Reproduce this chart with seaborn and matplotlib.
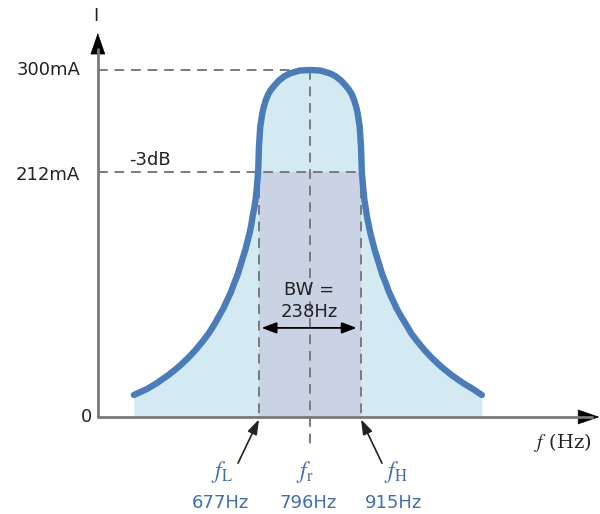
import pandas as pd
import matplotlib.pyplot as plt
import seaborn as sns

# resonance curve (Hz, mA)
freq = [385, 416, 438, 466, 490, 511, 529, 545, 560, 572, 583, 594, 603, 612, 619, 627, 633, 639, 645,
        650, 655, 659, 662, 666, 669, 672, 675, 677, 680, 685, 688.5, 693, 698.5, 705, 714, 724, 736,
        749, 772, 796,
        820, 843, 856, 868, 878, 887, 893.5, 899, 903.5, 907, 912, 915, 917, 920, 923, 926, 929, 933,
        937, 942, 947, 953, 959, 965, 973, 980, 989, 998, 1009, 1021, 1032, 1047, 1063, 1081, 1102,
        1126, 1154, 1176, 1197]
current = [19.0, 24.2, 29.1, 36.3, 43.5, 50.8, 57.9, 65.1, 72.4, 79.5, 86.7, 94.0, 101.2, 108.3, 115.6,
           122.8, 130.0, 137.2, 144.4, 151.6, 158.8, 166.0, 173.2, 180.7, 187.6, 198.4, 212, 234, 251,
           263, 268.5, 274, 279, 283, 287, 291, 294.5, 297, 299.5, 300,
           299.5, 297, 294.5, 291, 287, 283, 279, 274, 268.5, 263, 251, 234, 212, 198.4, 187.6, 180.7,
           173.2, 166.0, 158.8, 151.6, 144.4, 137.2, 130.0, 122.8, 115.6, 108.3, 101.2, 94.0, 86.7, 79.5,
           72.4, 65.1, 57.9, 50.8, 43.5, 36.3, 29.1, 24.2, 19.0]

# marked values
f_low, f_res, f_high = 677, 796, 915
i_peak, i_3db = 300, 212
freq_names = ["$f_{\\mathrm{L}}$", "$f_{\\mathrm{r}}$", "$f_{\\mathrm{H}}$"]
freq_labels = ["677Hz", "796Hz", "915Hz"]
tick_labels = ["300mA", "212mA", "0"]

curve = pd.DataFrame({"f": freq, "I": current})

sns.set_style("white")
plt.rcParams["mathtext.fontset"] = "stix"

fig = plt.figure(figsize=(6, 5.14), dpi=100)
ax = fig.add_axes([0, 0, 1, 1])

blue = "#3f6fb0"
grey = "#7a7a7a"
tc = "#222222"

# fills
ax.fill_between(curve["f"], 0, curve["I"], color="#d3eaf2", lw=0, zorder=1)
ax.fill_between([f_low, f_high], 0, i_3db, color="#c9d3e4", lw=0, zorder=2)

# dashed guides
dash = dict(color=grey, lw=1.4, ls=(0, (5, 3.5)), zorder=3)
ax.plot([301, f_res], [i_peak, i_peak], **dash)
ax.plot([301, f_high], [i_3db, i_3db], **dash)
ax.plot([f_res, f_res], [i_peak, -28], **dash)
ax.plot([f_low, f_low], [i_3db, 0], **dash)
ax.plot([f_high, f_high], [i_3db, 0], **dash)

# curve
sns.lineplot(data=curve, x="f", y="I", sort=False, estimator=None, ax=ax,
             color="#4a7cba", lw=4.6, zorder=5, solid_joinstyle="round", solid_capstyle="round")
ax.axis("off")
ax.set_xlim(72.7, 1472.7)
ax.set_ylim(-83.9, 360.5)

# axes with arrow heads
head = dict(arrowstyle="-|>,head_length=0.72,head_width=0.25", color="black", lw=0.5,
            mutation_scale=20, shrinkA=0, shrinkB=0)
ax.plot([301, 301], [0, 318], color=grey, lw=2, zorder=4)
ax.plot([301, 1455], [0, 0], color=grey, lw=2, zorder=4)
ax.annotate("", xy=(301, 332), xytext=(301, 312), arrowprops=head)
ax.annotate("", xy=(1471, 0), xytext=(1430, 0), arrowprops=head)

# axis texts
ax.text(297, 347, "I", ha="center", va="center", fontsize=13, color=tc)
ax.text(260, i_peak, tick_labels[0], ha="right", va="center", fontsize=13, color=tc)
ax.text(260, 209, tick_labels[1], ha="right", va="center", fontsize=13, color=tc)
ax.text(288, 0, tick_labels[2], ha="right", va="center", fontsize=13, color=tc)
ax.text(423, 222, "-3dB", ha="center", va="center", fontsize=13, color=tc)
ax.text(1386, -22, "$f$ (Hz)", ha="center", va="center", fontsize=14, color=tc, family="DejaVu Serif")

# bandwidth
ax.text(794, 110, "BW =", ha="center", va="center", fontsize=13, color=tc)
ax.text(794, 91, "238Hz", ha="center", va="center", fontsize=13, color=tc)
ax.annotate("", xy=(683, 77), xytext=(905, 77),
            arrowprops=dict(arrowstyle="<|-|>,head_length=0.45,head_width=0.17", color="black", lw=1.3,
                            mutation_scale=20, shrinkA=0, shrinkB=0))

# frequency labels
name_x = [591, 784, 997]
num_x = [588, 791, 992]
for nx, vx, nm, lb in zip(name_x, num_x, freq_names, freq_labels):
    ax.text(nx, -48, nm, ha="center", va="center", fontsize=17, color=blue)
    ax.text(vx, -74, lb, ha="center", va="center", fontsize=13, color=blue)

small = dict(arrowstyle="-|>,head_length=0.45,head_width=0.15", color=tc, lw=1.2,
             mutation_scale=20, shrinkA=0, shrinkB=0)
ax.annotate("", xy=(f_low, -2), xytext=(628, -40), arrowprops=small)
ax.annotate("", xy=(f_high, -2), xytext=(964, -40), arrowprops=small)

fig.savefig("out.png", dpi=100)
